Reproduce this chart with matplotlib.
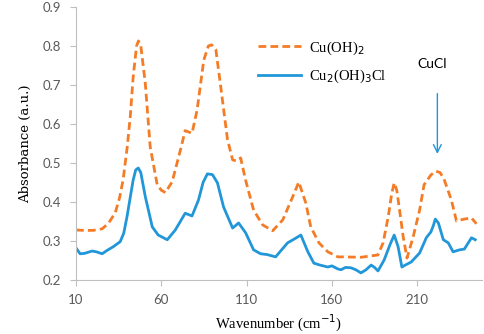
import numpy as np
import matplotlib.pyplot as plt

# Cu(OH)2 (dashed orange)
wn_oh2 = [10, 15, 20, 25.3, 29, 33, 35.5, 37.6, 40, 41.8, 43.5, 45.5, 46.6, 48, 50.6, 53.5, 57.6, 60,
          62.4, 66.4, 71.2, 74, 78, 81, 84.9, 87.6, 89.5, 92, 94.7, 98.8, 101.8, 104, 106.5, 109.4,
          114.1, 119.4, 125.3, 131.2, 137, 140.6, 144.7, 147.6, 152.4, 157.6, 163.5, 167, 177,
          187, 190, 193, 195, 196.5, 198, 199.4, 201.8, 204, 207.6, 211.4, 214, 218, 221, 223.5,
          225.9, 230, 233, 237.6, 241.8, 244.7]
abs_oh2 = [0.328, 0.327, 0.327, 0.331, 0.345, 0.372, 0.41, 0.456, 0.54, 0.618, 0.72, 0.8, 0.813, 0.8,
           0.705, 0.541, 0.444, 0.43, 0.424, 0.452, 0.533, 0.583, 0.576, 0.636, 0.764, 0.8, 0.803,
           0.79, 0.7, 0.56, 0.508, 0.505, 0.513, 0.456, 0.379, 0.341, 0.326, 0.354, 0.413, 0.451,
           0.397, 0.336, 0.295, 0.272, 0.259, 0.259, 0.258, 0.264, 0.295, 0.362, 0.42, 0.449, 0.43,
           0.387, 0.31, 0.256, 0.31, 0.379, 0.444, 0.469, 0.479, 0.475, 0.456, 0.405, 0.351, 0.356,
           0.359, 0.344]

# Cu2(OH)3Cl (solid blue)
wn_cl = [10, 12.4, 15, 19.4, 22, 25.3, 28, 31.8, 35.9, 38, 39.9, 43.5, 45, 46.5, 48, 50.6, 54.7,
         58.2, 63.5, 68.2, 74, 78, 81.8, 84.5, 87, 90, 92.9, 96.5, 101.8, 105.3, 109.4, 114.1,
         118.2, 122, 127, 134, 138, 141.8, 145.9, 149.4, 153, 157.6, 160, 163.5, 165.3, 168, 171.2,
         174, 177, 180, 183, 185, 187, 190.6, 194, 196.5, 198.8, 201, 203, 206.5, 211.4, 215.3,
         218, 219.5, 220.6, 222.4, 225.3, 228.2, 231, 234.7, 237.6, 241.8, 244]
abs_cl = [0.282, 0.267, 0.268, 0.274, 0.272, 0.267, 0.275, 0.285, 0.298, 0.32, 0.362, 0.456, 0.482,
          0.487, 0.475, 0.414, 0.336, 0.315, 0.303, 0.328, 0.371, 0.364, 0.405, 0.45, 0.472, 0.47,
          0.449, 0.387, 0.333, 0.346, 0.321, 0.277, 0.267, 0.265, 0.259, 0.295, 0.305, 0.315,
          0.272, 0.243, 0.238, 0.233, 0.236, 0.228, 0.226, 0.232, 0.231, 0.226, 0.218, 0.226, 0.238,
          0.232, 0.223, 0.251, 0.29, 0.315, 0.285, 0.233, 0.238, 0.246, 0.269, 0.308, 0.323, 0.34,
          0.356, 0.346, 0.303, 0.295, 0.272, 0.277, 0.279, 0.308, 0.303]

xticks = [10, 60, 110, 160, 210]
yticks = [0.2, 0.3, 0.4, 0.5, 0.6, 0.7, 0.8, 0.9]

orange = '#F47C26'
blue = '#2196D8'
grey = '#595959'

fig = plt.figure(figsize=(4.84, 3.34), dpi=100)
ax = fig.add_axes([0.157, 0.162, 0.839, 0.817])

ax.plot(wn_oh2, abs_oh2, color=orange, lw=2, ls=(0, (2.8, 1.5)), label='Cu(OH)$_2$')
ax.plot(wn_cl, abs_cl, color=blue, lw=2, label='Cu$_2$(OH)$_3$Cl')

ax.set_xlim(10, 248)
ax.set_ylim(0.2, 0.9)
ax.set_xticks(xticks)
ax.set_yticks(yticks)
ax.set_yticklabels([f'{v:.1f}' for v in yticks])
ax.tick_params(colors=grey, labelsize=9.5, length=4.5, width=0.8, pad=6)
for lab in ax.get_xticklabels() + ax.get_yticklabels():
    lab.set_family('Lato')
for s in ['top', 'right']:
    ax.spines[s].set_visible(False)
for s in ['left', 'bottom']:
    ax.spines[s].set_color('#BFBFBF')
    ax.spines[s].set_linewidth(0.8)
ax.tick_params(color='#BFBFBF')

ax.set_xlabel('Wavenumber (cm$^{-1}$)', family='Liberation Serif', fontsize=10.5, labelpad=5)
ax.set_ylabel('Absorbance (a.u.)', family='DejaVu Serif', fontsize=9.5, labelpad=8)

leg = ax.legend(loc='upper left', bbox_to_anchor=(0.415, 0.93), frameon=False,
                prop={'family': 'Liberation Serif', 'size': 10.5}, handlelength=3.0,
                handletextpad=0.5, labelspacing=0.75)

ax.text(218.8, 0.754, 'CuCl', family='Lato', fontsize=10, ha='center', va='center')
ax.annotate('', xy=(221.8, 0.516), xytext=(221.8, 0.685),
            arrowprops=dict(arrowstyle='->', color=blue, lw=1, mutation_scale=14))

fig.savefig('out.png', dpi=100)
